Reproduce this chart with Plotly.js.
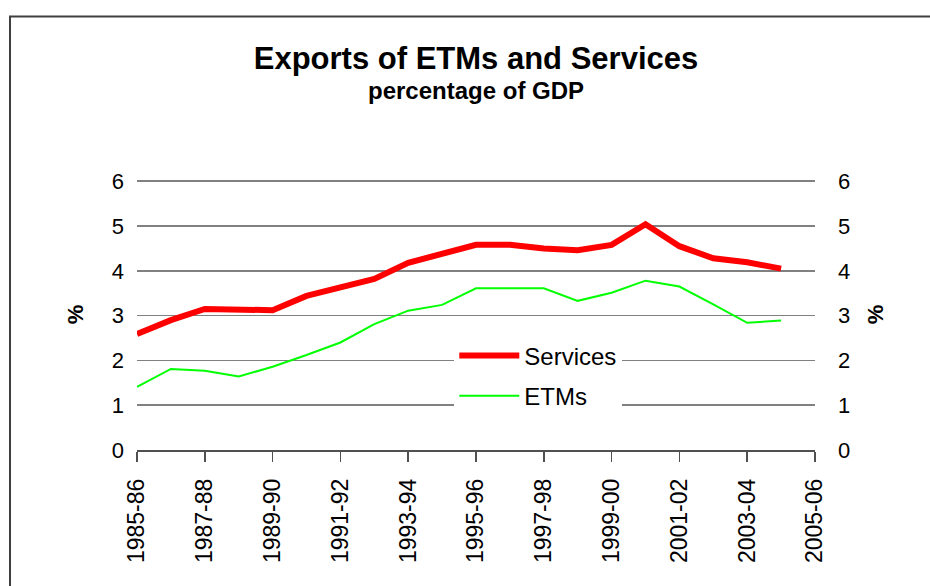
<!DOCTYPE html>
<html>
<head>
<meta charset="utf-8">
<script src="https://cdn.plot.ly/plotly-3.0.1.min.js"></script>
<style>
html,body{margin:0;padding:0;background:#fff;}
#chart{width:930px;height:586px;}
</style>
</head>
<body>
<div id="chart"></div>
<script>
var categories = ["1985-86","1986-87","1987-88","1988-89","1989-90","1990-91","1991-92","1992-93","1993-94","1994-95","1995-96","1996-97","1997-98","1998-99","1999-00","2000-01","2001-02","2002-03","2003-04","2004-05","2005-06"];
var services = [2.59, 2.90, 3.15, 3.15, 3.12, 3.44, 3.62, 3.82, 4.18, 4.37, 4.58, 4.58, 4.50, 4.46, 4.58, 5.04, 4.55, 4.28, 4.19, 4.05];
var etms = [1.41, 1.81, 1.77, 1.64, 1.86, 2.12, 2.40, 2.81, 3.11, 3.24, 3.61, 3.61, 3.61, 3.33, 3.51, 3.78, 3.65, 3.25, 2.84, 2.89];
var yTicks = [0, 1, 2, 3, 4, 5, 6];
var titleText = "Exports of ETMs and Services";
var subtitleText = "percentage of GDP";
var yTitle = "%";

var shownTicks = categories.filter(function(c, i){ return i % 2 === 0; });
var FONT = "Liberation Sans, Arial, sans-serif";
var Y_RANGE = [0, 6.05];

var traces = [
  {
    x: categories.slice(0, services.length), y: services, name: "Services",
    type: "scatter", mode: "lines", line: {color: "#FF0000", width: 6},
    legendgroup: "a", xaxis: "x", yaxis: "y"
  },
  {
    x: categories.slice(0, etms.length), y: etms, name: "ETMs",
    type: "scatter", mode: "lines", line: {color: "#00FF00", width: 2},
    legendgroup: "b", xaxis: "x", yaxis: "y2"
  }
];

var layout = {
  width: 930, height: 586,
  margin: {l: 137, r: 115, t: 179, b: 136},
  paper_bgcolor: "#ffffff", plot_bgcolor: "#ffffff",
  font: {family: FONT, color: "#000000"},
  title: {
    text: "<b>" + titleText + "</b>",
    font: {family: FONT, size: 31, color: "#000"},
    x: 0.5, xanchor: "center", xref: "paper",
    y: 0.92, yanchor: "top", yref: "container"
  },
  annotations: [{
    text: "<b>" + subtitleText + "</b>", xref: "paper", yref: "paper",
    x: 0.5, xanchor: "center", y: 1.327, yanchor: "middle", showarrow: false,
    font: {family: FONT, size: 24, color: "#000"}
  }],
  showlegend: true,
  legend: {
    x: 0.468, y: 0.43, xanchor: "left", yanchor: "top",
    bgcolor: "#ffffff", borderwidth: 0,
    font: {family: FONT, size: 24, color: "#000"},
    traceorder: "grouped", tracegroupgap: 6, itemwidth: 60
  },
  xaxis: {
    type: "category", categoryorder: "array", categoryarray: categories,
    range: [0, categories.length - 1],
    tickmode: "array", tickvals: shownTicks, ticktext: shownTicks,
    tickangle: -90, tickfont: {family: FONT, size: 23, color: "#000"},
    ticks: "outside", ticklen: 10, tickwidth: 1.5, tickcolor: "#505050",
    ticklabelstandoff: 8,
    showline: true, linecolor: "#505050", linewidth: 1.5,
    showgrid: false, zeroline: false, fixedrange: true
  },
  yaxis: {
    range: Y_RANGE, tickmode: "array", tickvals: yTicks,
    tickfont: {family: FONT, size: 22, color: "#000"},
    ticks: "", ticklabelstandoff: 12,
    showgrid: true, gridcolor: "#808080", gridwidth: 1.5,
    showline: false, zeroline: false, fixedrange: true,
    title: {text: "<b>" + yTitle + "</b>", font: {family: FONT, size: 22, color: "#000"}, standoff: 22}
  },
  yaxis2: {
    range: Y_RANGE, overlaying: "y", side: "right", tickmode: "array", tickvals: yTicks,
    tickfont: {family: FONT, size: 22, color: "#000"},
    ticks: "", ticklabelstandoff: 22,
    showgrid: false, showline: false, zeroline: false, fixedrange: true,
    title: {text: "<b>" + yTitle + "</b>", font: {family: FONT, size: 22, color: "#000"}, standoff: 18}
  },
  shapes: [{
    type: "rect", xref: "paper", yref: "paper",
    x0: -0.1873, x1: 1.18, y0: -0.55, y1: 1.6,
    line: {color: "#404040", width: 2}, fillcolor: "rgba(0,0,0,0)", layer: "below"
  }]
};

Plotly.newPlot("chart", traces, layout, {displayModeBar: false, staticPlot: true});
</script>
</body>
</html>
